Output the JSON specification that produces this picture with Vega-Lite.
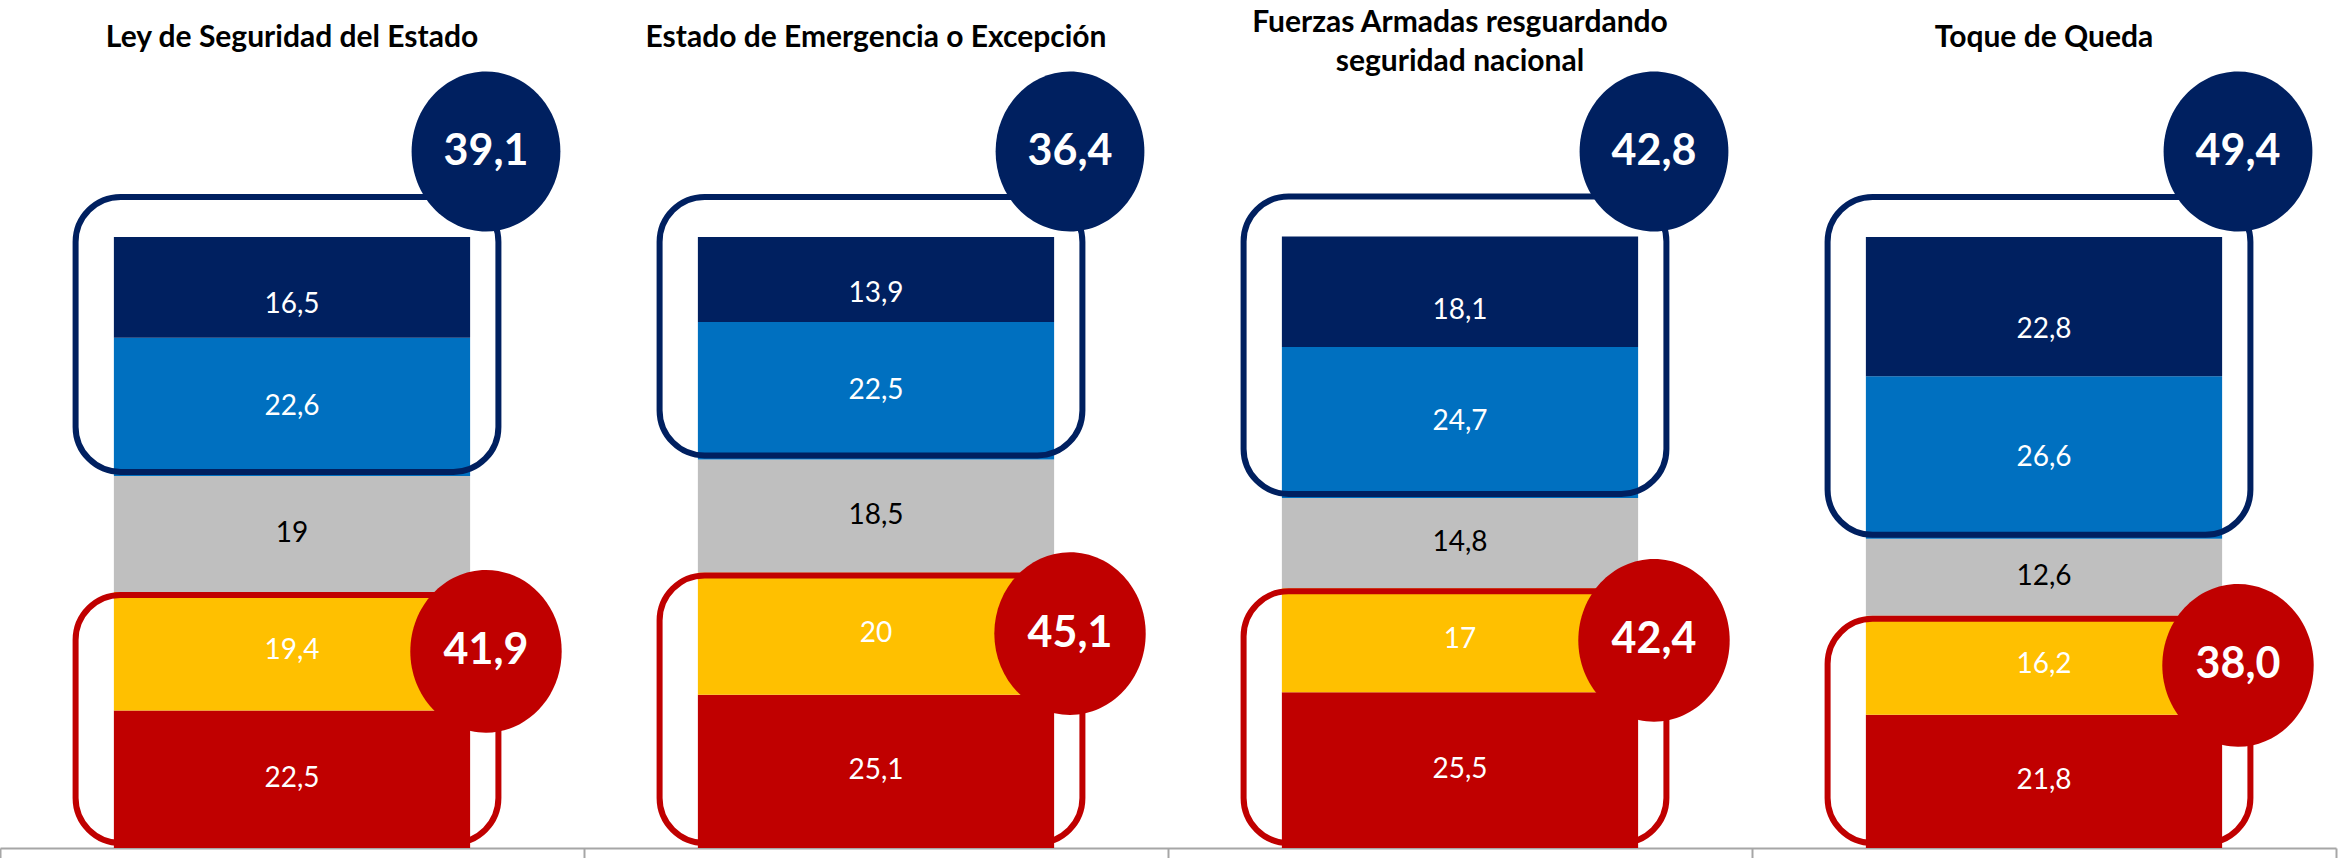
{
  "$schema": "https://vega.github.io/schema/vega-lite/v6.json",
  "width": 2336,
  "height": 848,
  "autosize": {"type": "none"},
  "padding": {"left": 0, "top": 0, "right": 7, "bottom": 10},
  "background": "white",
  "config": {
    "view": {"stroke": null},
    "font": "Lato",
    "locale": {"number": {"decimal": ",", "thousands": ".", "grouping": [3], "currency": ["", ""]}}
  },
  "datasets": {
    "segs": [
      {"cat": "Ley de Seguridad del Estado", "seg": "Muy en desacuerdo", "order": 1, "value": 22.5},
      {"cat": "Ley de Seguridad del Estado", "seg": "En desacuerdo", "order": 2, "value": 19.4},
      {"cat": "Ley de Seguridad del Estado", "seg": "Ni de acuerdo ni en desacuerdo", "order": 3, "value": 19},
      {"cat": "Ley de Seguridad del Estado", "seg": "De acuerdo", "order": 4, "value": 22.6},
      {"cat": "Ley de Seguridad del Estado", "seg": "Muy de acuerdo", "order": 5, "value": 16.5},
      {"cat": "Estado de Emergencia o Excepción", "seg": "Muy en desacuerdo", "order": 1, "value": 25.1},
      {"cat": "Estado de Emergencia o Excepción", "seg": "En desacuerdo", "order": 2, "value": 20},
      {"cat": "Estado de Emergencia o Excepción", "seg": "Ni de acuerdo ni en desacuerdo", "order": 3, "value": 18.5},
      {"cat": "Estado de Emergencia o Excepción", "seg": "De acuerdo", "order": 4, "value": 22.5},
      {"cat": "Estado de Emergencia o Excepción", "seg": "Muy de acuerdo", "order": 5, "value": 13.9},
      {"cat": "Fuerzas Armadas resguardando seguridad nacional", "seg": "Muy en desacuerdo", "order": 1, "value": 25.5},
      {"cat": "Fuerzas Armadas resguardando seguridad nacional", "seg": "En desacuerdo", "order": 2, "value": 17},
      {"cat": "Fuerzas Armadas resguardando seguridad nacional", "seg": "Ni de acuerdo ni en desacuerdo", "order": 3, "value": 14.8},
      {"cat": "Fuerzas Armadas resguardando seguridad nacional", "seg": "De acuerdo", "order": 4, "value": 24.7},
      {"cat": "Fuerzas Armadas resguardando seguridad nacional", "seg": "Muy de acuerdo", "order": 5, "value": 18.1},
      {"cat": "Toque de Queda", "seg": "Muy en desacuerdo", "order": 1, "value": 21.8},
      {"cat": "Toque de Queda", "seg": "En desacuerdo", "order": 2, "value": 16.2},
      {"cat": "Toque de Queda", "seg": "Ni de acuerdo ni en desacuerdo", "order": 3, "value": 12.6},
      {"cat": "Toque de Queda", "seg": "De acuerdo", "order": 4, "value": 26.6},
      {"cat": "Toque de Queda", "seg": "Muy de acuerdo", "order": 5, "value": 22.8}
    ],
    "totals": [
      {"cat": "Ley de Seguridad del Estado", "apoyo": 39.1, "rechazo": 41.9},
      {"cat": "Estado de Emergencia o Excepción", "apoyo": 36.4, "rechazo": 45.1},
      {"cat": "Fuerzas Armadas resguardando seguridad nacional", "apoyo": 42.8, "rechazo": 42.4},
      {"cat": "Toque de Queda", "apoyo": 49.4, "rechazo": 38.0}
    ],
    "titles_one_line": [
      {"cat": "Ley de Seguridad del Estado", "title": "Ley de Seguridad del Estado"},
      {"cat": "Estado de Emergencia o Excepción", "title": "Estado de Emergencia o Excepción"},
      {"cat": "Toque de Queda", "title": "Toque de Queda"}
    ],
    "titles_two_lines": [
      {"cat": "Fuerzas Armadas resguardando seguridad nacional", "title": "Fuerzas Armadas resguardando\nseguridad nacional"}
    ]
  },
  "encoding": {
    "x": {
      "field": "cat",
      "type": "nominal",
      "sort": ["Ley de Seguridad del Estado", "Estado de Emergencia o Excepción", "Fuerzas Armadas resguardando seguridad nacional", "Toque de Queda"],
      "scale": {"paddingInner": 0, "paddingOuter": 0},
      "axis": {
        "title": null,
        "labels": false,
        "ticks": true,
        "tickBand": "extent",
        "tickSize": 10,
        "tickColor": "#a6a6a6",
        "tickWidth": 2,
        "domainColor": "#a6a6a6",
        "domainWidth": 2,
        "grid": false
      }
    }
  },
  "layer": [
    {
      "data": {"name": "segs"},
      "mark": {"type": "bar", "width": {"band": 0.61}},
      "encoding": {
        "y": {"field": "value", "type": "quantitative", "stack": "zero", "scale": {"domain": [0, 138.8], "nice": false, "zero": true}, "axis": null},
        "color": {
          "field": "seg",
          "type": "nominal",
          "scale": {
            "domain": ["Muy en desacuerdo", "En desacuerdo", "Ni de acuerdo ni en desacuerdo", "De acuerdo", "Muy de acuerdo"],
            "range": ["#C00000", "#FFC000", "#BFBFBF", "#0070C0", "#002060"]
          },
          "legend": null
        },
        "order": {"field": "order", "type": "quantitative"}
      }
    },
    {
      "data": {"name": "segs"},
      "mark": {"type": "text", "font": "Lato", "fontSize": 28, "baseline": "middle", "align": "center"},
      "encoding": {
        "y": {"field": "value", "type": "quantitative", "stack": "zero", "bandPosition": 0.5, "axis": null},
        "detail": {"field": "seg", "type": "nominal"},
        "order": {"field": "order", "type": "quantitative"},
        "text": {"field": "value", "type": "quantitative", "format": "~g"},
        "color": {"condition": {"test": "datum.seg === 'Ni de acuerdo ni en desacuerdo'", "value": "#000000"}, "value": "#ffffff"},
        "opacity": {"condition": {"test": "datum.seg === 'Muy de acuerdo'", "value": 0}, "value": 1}
      }
    },
    {
      "data": {"name": "segs"},
      "mark": {"type": "text", "font": "Lato", "fontSize": 28, "baseline": "middle", "align": "center", "color": "#ffffff"},
      "encoding": {
        "y": {"field": "value", "type": "quantitative", "stack": "zero", "bandPosition": 0.33, "axis": null},
        "detail": {"field": "seg", "type": "nominal"},
        "order": {"field": "order", "type": "quantitative"},
        "text": {"field": "value", "type": "quantitative", "format": "~g"},
        "opacity": {"condition": {"test": "datum.seg === 'Muy de acuerdo'", "value": 1}, "value": 0}
      }
    },
    {
      "data": {"name": "segs"},
      "transform": [
        {"stack": "value", "groupby": ["cat"], "sort": [{"field": "order"}], "as": ["v0", "v1"]},
        {"filter": {"field": "seg", "oneOf": ["De acuerdo", "Muy de acuerdo"]}},
        {"aggregate": [{"op": "min", "field": "v0", "as": "lo"}, {"op": "max", "field": "v1", "as": "hi"}], "groupby": ["cat"]}
      ],
      "mark": {"type": "bar", "filled": false, "color": "#002060", "strokeWidth": 6, "cornerRadius": 45, "width": {"band": 0.724}, "xOffset": -5, "yOffset": -40, "y2Offset": -4},
      "encoding": {
        "y": {"field": "hi", "type": "quantitative", "axis": null},
        "y2": {"field": "lo"}
      }
    },
    {
      "data": {"name": "segs"},
      "transform": [
        {"stack": "value", "groupby": ["cat"], "sort": [{"field": "order"}], "as": ["v0", "v1"]},
        {"filter": {"field": "seg", "oneOf": ["Muy en desacuerdo", "En desacuerdo"]}},
        {"aggregate": [{"op": "min", "field": "v0", "as": "lo"}, {"op": "max", "field": "v1", "as": "hi"}], "groupby": ["cat"]}
      ],
      "mark": {"type": "bar", "filled": false, "color": "#C00000", "strokeWidth": 6, "cornerRadius": 45, "width": {"band": 0.724}, "xOffset": -5, "yOffset": 3, "y2Offset": -5},
      "encoding": {
        "y": {"field": "hi", "type": "quantitative", "axis": null},
        "y2": {"field": "lo"}
      }
    },
    {
      "data": {"name": "totals"},
      "mark": {"type": "point", "filled": true, "shape": "M-0.93,0A0.93,1,0,1,0,0.93,0A0.93,1,0,1,0,-0.93,0Z", "size": 25600, "color": "#002060", "opacity": 1, "strokeWidth": 0, "xOffset": 194},
      "encoding": {
        "y": {"datum": 114, "type": "quantitative", "axis": null}
      }
    },
    {
      "data": {"name": "totals"},
      "mark": {"type": "text", "font": "Lato", "fontWeight": "bold", "fontSize": 43, "color": "#ffffff", "baseline": "middle", "align": "center", "xOffset": 194},
      "encoding": {
        "y": {"datum": 114, "type": "quantitative", "axis": null},
        "text": {"field": "apoyo", "type": "quantitative", "format": ".1f"}
      }
    },
    {
      "data": {"name": "segs"},
      "transform": [
        {"lookup": "cat", "from": {"data": {"name": "totals"}, "key": "cat", "fields": ["rechazo"]}}
      ],
      "mark": {"type": "point", "filled": true, "shape": "M-0.93,0A0.93,1,0,1,0,0.93,0A0.93,1,0,1,0,-0.93,0Z", "size": 26500, "color": "#C00000", "strokeWidth": 0, "xOffset": 194},
      "encoding": {
        "y": {"field": "value", "type": "quantitative", "stack": "zero", "bandPosition": 0.5, "axis": null},
        "detail": {"field": "seg", "type": "nominal"},
        "order": {"field": "order", "type": "quantitative"},
        "opacity": {"condition": {"test": "datum.seg === 'En desacuerdo'", "value": 1}, "value": 0}
      }
    },
    {
      "data": {"name": "segs"},
      "transform": [
        {"lookup": "cat", "from": {"data": {"name": "totals"}, "key": "cat", "fields": ["rechazo"]}}
      ],
      "mark": {"type": "text", "font": "Lato", "fontWeight": "bold", "fontSize": 43, "color": "#ffffff", "baseline": "middle", "align": "center", "xOffset": 194},
      "encoding": {
        "y": {"field": "value", "type": "quantitative", "stack": "zero", "bandPosition": 0.5, "axis": null},
        "detail": {"field": "seg", "type": "nominal"},
        "order": {"field": "order", "type": "quantitative"},
        "text": {"field": "rechazo", "type": "quantitative", "format": ".1f"},
        "opacity": {"condition": {"test": "datum.seg === 'En desacuerdo'", "value": 1}, "value": 0}
      }
    },
    {
      "data": {"name": "titles_one_line"},
      "mark": {"type": "text", "font": "Lato", "fontWeight": "bold", "fontSize": 30, "color": "#000000", "baseline": "middle", "align": "center"},
      "encoding": {
        "y": {"datum": 132.5, "type": "quantitative", "axis": null},
        "text": {"field": "title", "type": "nominal"}
      }
    },
    {
      "data": {"name": "titles_two_lines"},
      "mark": {"type": "text", "font": "Lato", "fontWeight": "bold", "fontSize": 30, "color": "#000000", "baseline": "middle", "align": "center", "lineBreak": "\n", "lineHeight": 39, "yOffset": -15},
      "encoding": {
        "y": {"datum": 132.5, "type": "quantitative", "axis": null},
        "text": {"field": "title", "type": "nominal"}
      }
    }
  ]
}
